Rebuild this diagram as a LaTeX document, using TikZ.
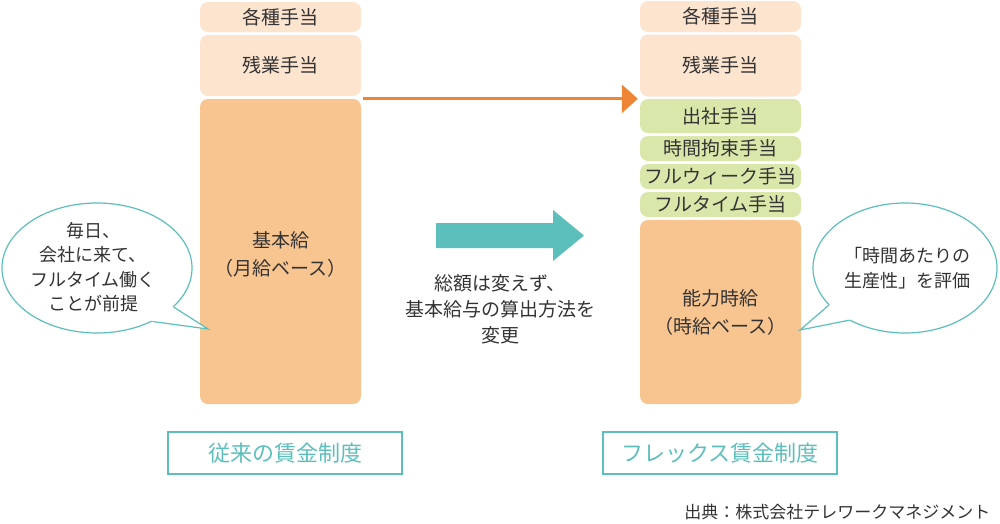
\documentclass[tikz,border=0pt]{standalone}
\usepackage{fontspec}
\setmainfont{Noto Sans CJK JP}
\usetikzlibrary{shapes.geometric,arrows.meta,calc}
\definecolor{peach}{HTML}{FDE4CF}
\definecolor{basepay}{HTML}{F8C590}
\definecolor{leaf}{HTML}{D9E8AA}
\definecolor{sea}{HTML}{5CBFBC}
\definecolor{carrot}{HTML}{EE8535}
\definecolor{ink}{HTML}{333333}
\tikzset{
	pay/.style={rectangle,rounded corners=8pt,inner sep=0pt,minimum width=161pt,text=ink,
		font=\fontsize{19}{28}\selectfont,align=center},
	bubble/.style={ellipse,draw=sea,line width=1.2pt,fill=white,inner sep=0pt},
	talk/.style={text=ink,font=\fontsize{18}{24.5}\selectfont,align=center},
	scheme/.style={draw=sea,line width=1.2pt,minimum width=234pt,minimum height=42pt,
		text=sea,font=\fontsize{22}{26}\selectfont}
}
\begin{document}
\begin{tikzpicture}[x=1pt,y=-1pt]
	\useasboundingbox (0,0) rectangle (1000,523);
	% old scheme
	\node[pay,fill=peach,minimum height=30pt] (kakushuL) at (280.5,17) {各種手当};
	\node[pay,fill=peach,minimum height=61pt] (zangyoL) at (280.5,65.5) {残業手当};
	\node[pay,fill=basepay,minimum height=305pt] (kihon) at (280.5,251.5) {\\[-6pt]基本給\\（月給ベース）};
	% flex scheme
	\node[pay,fill=peach,minimum height=31pt] (kakushuR) at (720.5,16.5) {各種手当};
	\node[pay,fill=peach,minimum height=62pt] (zangyoR) at (720.5,65.5) {残業手当};
	\node[pay,fill=leaf,minimum height=34pt] (shussha) at (720.5,116) {出社手当};
	\foreach \n/\y/\t in {kosoku/148.5/時間拘束手当, fullweek/176.5/フルウィーク手当, fulltime/204.5/フルタイム手当}
	{
		\node[pay,fill=leaf,minimum height=25pt] (\n) at (720.5,\y) {\t};
	}
	\node[pay,fill=basepay,minimum height=184pt] (noryoku) at (720.5,312) {能力時給\\（時給ベース）};

	\draw[carrot,line width=3pt,-{Triangle[length=16pt,width=28pt]}] ([xshift=2pt]kihon.north east) -- ([xshift=-2pt]shussha.north west);
	\fill[sea] (436,223) -- (553,223) -- (553,210) -- (584,235.5) -- (553,261) -- (553,248) -- (436,248) -- cycle;
	\node[text=ink,font=\fontsize{19}{26}\selectfont,align=center] (note) at (500,309) {総額は変えず、\\基本給与の算出方法を\\変更};

	% speech bubbles
	\node[bubble,minimum width=190pt,minimum height=130pt] (bubL) at (97,268) {};
	\coordinate (tipL) at (208,329);
	\fill[white] ($(bubL.center)!0.9!(bubL.-27)$) -- (bubL.-27) -- (tipL) -- (bubL.-44) -- ($(bubL.center)!0.9!(bubL.-44)$) -- cycle;
	\draw[sea,line width=1.2pt] (bubL.-27) -- (tipL) -- (bubL.-44);
	\node[talk] (textL) at (93,267) {毎日、\\会社に来て、\\フルタイム働く\\ことが前提};

	\node[bubble,minimum width=184pt,minimum height=130pt] (bubR) at (905,268) {};
	\coordinate (tipR) at (800,330);
	\fill[white] ($(bubR.center)!0.9!(bubR.206)$) -- (bubR.206) -- (tipR) -- (bubR.223) -- ($(bubR.center)!0.9!(bubR.223)$) -- cycle;
	\draw[sea,line width=1.2pt] (bubR.206) -- (tipR) -- (bubR.223);
	\node[talk] (textR) at (907,268) {「時間あたりの\\生産性」を評価};

	\node[scheme] (oldsys) at (285,453) {従来の賃金制度};
	\node[scheme] (flexsys) at (720,453) {フレックス賃金制度};
	\node[text=ink,font=\fontsize{17}{20}\selectfont,anchor=east] (source) at (994,512) {出典：株式会社テレワークマネジメント};
\end{tikzpicture}
\end{document}
